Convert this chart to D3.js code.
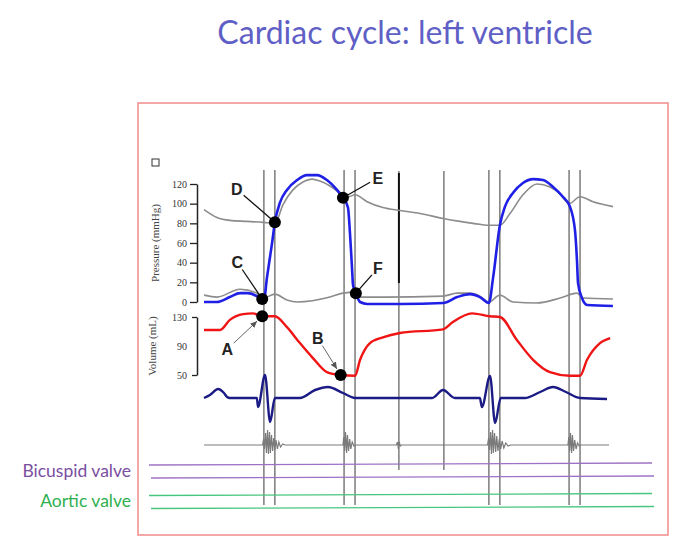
<!DOCTYPE html>
<html>
<head>
<meta charset="utf-8">
<script src="https://cdn.jsdelivr.net/npm/d3@7"></script>
<style>
  body { margin: 0; background: #fff; }
  svg { display: block; }
</style>
</head>
<body>
<div id="chart"></div>
<script>
// Time in ms, two cardiac cycles (800 ms each)
const lvPressure = [
  [0, 0], [46, 0], [92, 5], [128, 9], [156, 9], [188, 6], [207, 3], [213, 2],
  [224, 25], [242, 60], [252, 81], [270, 101], [295, 114], [331, 124], [366, 129],
  [402, 129], [437, 124], [473, 114], [494, 106], [512, 96], [519, 70], [526, 36],
  [530, 17], [540, 9], [555, 0], [580, -2], [700, -2], [850, -1], [900, 5], [946, 8],
  [981, 5], [1013, -1], [1028, 25], [1052, 78], [1070, 97], [1099, 111], [1134, 121],
  [1170, 125], [1205, 124], [1241, 117], [1276, 107], [1301, 97], [1319, 73],
  [1326, 43], [1330, 19], [1344, 4], [1362, -3], [1454, -4]
];
const aorticPressure = [
  [0, 94], [46, 86], [92, 83], [153, 82], [210, 81], [252, 80], [281, 99], [316, 114],
  [352, 122], [384, 125], [412, 123], [448, 118], [476, 112], [494, 106], [516, 107],
  [537, 109], [580, 102], [636, 96], [697, 93], [768, 90], [850, 85], [910, 82],
  [981, 79], [1013, 78], [1052, 78], [1088, 90], [1134, 109], [1184, 120], [1230, 117],
  [1266, 110], [1298, 100], [1337, 107], [1383, 102], [1454, 97]
];
const atrialPressure = [
  [0, 7], [46, 5], [128, 13], [188, 9], [210, 4], [252, 8], [295, 2], [331, 0],
  [448, 5], [494, 9], [537, 10], [555, 5], [636, 5], [850, 6], [900, 9], [946, 9],
  [981, 6], [1013, 0], [1052, 7], [1099, 0], [1184, -1], [1266, 4], [1326, 9],
  [1348, 4], [1454, 3]
];
const lvVolume = [
  [0, 112], [57, 112], [92, 126], [139, 134], [174, 135], [207, 131], [252, 131],
  [295, 116], [341, 94], [388, 73], [437, 54], [486, 50], [537, 49], [555, 71],
  [590, 94], [636, 102], [697, 108], [850, 113], [885, 123], [953, 135], [1017, 131],
  [1052, 130], [1113, 98], [1170, 71], [1230, 54], [1301, 49], [1337, 49],
  [1362, 71], [1408, 94], [1444, 101]
];
const ecg = [
  [0, 0], [21, 0.12], [50, 0.36], [71, 0.2], [82, 0.04], [92, 0], [188, 0], [192, -0.36],
  [217, 0.92], [235, -0.96], [252, 0], [341, 0], [395, 0.32], [441, 0.44], [494, 0.2],
  [537, 0], [811, 0], [850, 0.32], [892, 0], [981, 0], [988, -0.36], [1017, 0.88],
  [1035, -1], [1055, 0], [1141, 0], [1195, 0.24], [1241, 0.44], [1287, 0.24],
  [1337, 0], [1433, -0.04]
];
const phono = [
  [0, 0], [208, 0], [212, 6], [215, -4], [219, 12], [222, -8], [226, 15], [229, -9],
  [233, 13], [236, -8], [240, 10], [244, -6], [248, 7], [252, -5], [256, 5], [261, -4],
  [266, 3], [272, -2], [280, 1], [288, 0],
  [494, 0], [497, 8], [500, -6], [503, 13], [507, -8], [510, 10], [514, -6], [518, 6],
  [522, -4], [527, 3], [533, -1], [540, 0],
  [684, 0], [688, 3], [691, -4], [694, 3], [698, -1], [702, 0],
  [1008, 0], [1012, 7], [1015, -5], [1019, 13], [1022, -9], [1026, 15], [1029, -8],
  [1033, 12], [1037, -7], [1041, 9], [1045, -6], [1050, 6], [1055, -4], [1060, 4],
  [1066, -3], [1073, 2], [1081, -1], [1090, 0],
  [1294, 0], [1297, 8], [1300, -6], [1303, 12], [1307, -8], [1310, 10], [1314, -6],
  [1318, 5], [1323, -4], [1328, 2], [1334, -1], [1340, 0], [1440, 0]
];
const valveEvents = [213, 252, 498, 537, 1013, 1052, 1298, 1337];
const soundMarks = [693, 853];
const pressureTicks = [0, 20, 40, 60, 80, 100, 120];
const volumeTicks = [50, 90, 130];
const valves = ['Bicuspid valve', 'Aortic valve'];
const points = [
  { label: 'A', t: 207, v: 131, trace: 'vol', dx: -35, dy: 33, arrow: true },
  { label: 'B', t: 486, v: 50, trace: 'vol', dx: -23, dy: -37, arrow: true },
  { label: 'C', t: 207, v: 3, trace: 'p', dx: -25, dy: -37 },
  { label: 'D', t: 252, v: 81, trace: 'p', dx: -38, dy: -33 },
  { label: 'E', t: 494, v: 106, trace: 'p', dx: 35, dy: -20 },
  { label: 'F', t: 540, v: 9, trace: 'p', dx: 22, dy: -25 }
];

const W = 700, H = 550;
const frame = { x: 138, y: 103, w: 530, h: 432 };

const svg = d3.select('#chart').append('svg')
  .attr('width', W)
  .attr('height', H);

svg.append('text')
  .attr('x', 405)
  .attr('y', 44)
  .attr('text-anchor', 'middle')
  .style('font-family', 'Lato, "Open Sans", sans-serif')
  .style('font-size', '32px')
  .style('fill', '#5f5fc6')
  .text('Cardiac cycle: left ventricle');

svg.append('rect')
  .attr('x', frame.x).attr('y', frame.y)
  .attr('width', frame.w).attr('height', frame.h)
  .attr('fill', 'none')
  .attr('stroke', '#f08a8a')
  .attr('stroke-width', 1.5);

// little checkbox glyph
svg.append('rect')
  .attr('x', 152).attr('y', 159)
  .attr('width', 7).attr('height', 7)
  .attr('fill', 'none')
  .attr('stroke', '#333')
  .attr('stroke-width', 1);

// scales
const x = d3.scaleLinear().domain([0, 1440]).range([204, 609]);
const yP = d3.scaleLinear().domain([0, 120]).range([302, 184]);
const yV = d3.scaleLinear().domain([50, 130]).range([375, 317]);
const yE = d3.scaleLinear().domain([-1, 1]).range([423, 373]);
const yS = d3.scaleLinear().domain([-20, 20]).range([465, 425]);
const yValve = d3.scalePoint().domain(valves).range([470.5, 501]);

// vertical event lines
svg.append('g').selectAll('line')
  .data(valveEvents)
  .join('line')
  .attr('x1', d => x(d)).attr('x2', d => x(d))
  .attr('y1', 170).attr('y2', 505)
  .attr('stroke', '#5a5a5a')
  .attr('stroke-width', 1.2);

svg.append('g').selectAll('line')
  .data(soundMarks)
  .join('line')
  .attr('x1', d => x(d)).attr('x2', d => x(d))
  .attr('y1', 171).attr('y2', 470)
  .attr('stroke', '#5a5a5a')
  .attr('stroke-width', 1.2);

// the darker marker over the pressure panel
svg.append('line')
  .attr('x1', x(soundMarks[0])).attr('x2', x(soundMarks[0]))
  .attr('y1', 173).attr('y2', 283)
  .attr('stroke', '#111')
  .attr('stroke-width', 2);

// axes
const serif = '"Liberation Serif", "DejaVu Serif", serif';

svg.append('g')
  .attr('transform', 'translate(197,0)')
  .call(d3.axisLeft(yP).tickValues(pressureTicks).tickSize(7).tickPadding(3).tickSizeOuter(0))
  .call(g => g.select('.domain').attr('stroke', '#222').attr('stroke-width', 1.5))
  .call(g => g.selectAll('.tick line').attr('stroke', '#222').attr('stroke-width', 1.3))
  .call(g => g.selectAll('.tick text').attr('fill', '#333')
    .style('font-family', serif).style('font-size', '10px'));

svg.append('g')
  .attr('transform', 'translate(197,0)')
  .call(d3.axisLeft(yV).tickValues(volumeTicks).tickSize(5).tickPadding(5).tickSizeOuter(0))
  .call(g => g.select('.domain').attr('stroke', '#222').attr('stroke-width', 1.5))
  .call(g => g.selectAll('.tick line').attr('stroke', '#222').attr('stroke-width', 1.3)
    .attr('opacity', d => d === 90 ? 0 : 1))
  .call(g => g.selectAll('.tick text').attr('fill', '#333')
    .style('font-family', serif).style('font-size', '10px'));

svg.append('text')
  .attr('transform', `translate(159,${(yP(0) + yP(120)) / 2}) rotate(-90)`)
  .attr('text-anchor', 'middle')
  .style('font-family', serif)
  .style('font-size', '11px')
  .style('fill', '#444')
  .text('Pressure (mmHg)');

svg.append('text')
  .attr('transform', `translate(156,${(yV(50) + yV(130)) / 2}) rotate(-90)`)
  .attr('text-anchor', 'middle')
  .style('font-family', serif)
  .style('font-size', '11px')
  .style('fill', '#444')
  .text('Volume (mL)');

// traces
const line = (ys, curve) => d3.line()
  .x(d => x(d[0]))
  .y(d => ys(d[1]))
  .curve(curve || d3.curveMonotoneX);

svg.append('path').datum(aorticPressure)
  .attr('fill', 'none').attr('stroke', '#8c8c8c').attr('stroke-width', 1.6)
  .attr('d', line(yP));

svg.append('path').datum(atrialPressure)
  .attr('fill', 'none').attr('stroke', '#8c8c8c').attr('stroke-width', 1.6)
  .attr('d', line(yP));

svg.append('path').datum(lvPressure)
  .attr('fill', 'none').attr('stroke', '#1f1fe6').attr('stroke-width', 2.6)
  .attr('d', line(yP));

svg.append('path').datum(lvVolume)
  .attr('fill', 'none').attr('stroke', '#f01414').attr('stroke-width', 2.4)
  .attr('d', line(yV));

svg.append('path').datum(ecg)
  .attr('fill', 'none').attr('stroke', '#1b1b86').attr('stroke-width', 2.4)
  .attr('stroke-linejoin', 'round')
  .attr('d', line(yE));

svg.append('path').datum(phono)
  .attr('fill', 'none').attr('stroke', '#7a7a7a').attr('stroke-width', 1.2)
  .attr('d', line(yS, d3.curveLinear));

// valve rows
const valveColors = { 'Bicuspid valve': ['#9d72c6', '#7a4ea0'], 'Aortic valve': ['#47c67f', '#2fb04f'] };
valves.forEach(v => {
  [-6.5, 6.5].forEach((off, i) => {
    svg.append('line')
      .attr('x1', 149 + i * 2).attr('x2', 652 + i * 2)
      .attr('y1', yValve(v) + off + 1).attr('y2', yValve(v) + off - 1)
      .attr('stroke', valveColors[v][0])
      .attr('stroke-width', 1.3);
  });
  svg.append('text')
    .attr('x', 131)
    .attr('y', yValve(v))
    .attr('dy', '0.35em')
    .attr('text-anchor', 'end')
    .style('font-family', 'Lato, "Open Sans", sans-serif')
    .style('font-size', '17.5px')
    .style('fill', valveColors[v][1])
    .text(v);
});

// labelled points
svg.append('defs').append('marker')
  .attr('id', 'arrow')
  .attr('viewBox', '0 -4 8 8')
  .attr('refX', 8).attr('refY', 0)
  .attr('markerWidth', 7).attr('markerHeight', 7)
  .attr('markerUnits', 'userSpaceOnUse')
  .attr('orient', 'auto')
  .append('path')
  .attr('d', 'M0,-3.5L8,0L0,3.5Z')
  .attr('fill', '#555');

points.forEach(p => {
  const px = x(p.t);
  const py = p.trace === 'vol' ? yV(p.v) : yP(p.v);
  const tx = px + p.dx, ty = py + p.dy;
  const len = Math.hypot(p.dx, p.dy);
  const ux = -p.dx / len, uy = -p.dy / len;
  const end = p.arrow ? 7 : 0;
  svg.append('line')
    .attr('x1', tx + ux * 9).attr('y1', ty + uy * 9)
    .attr('x2', px - ux * end).attr('y2', py - uy * end)
    .attr('stroke', p.arrow ? '#666' : '#111')
    .attr('stroke-width', p.arrow ? 1 : 1.3)
    .attr('marker-end', p.arrow ? 'url(#arrow)' : null);
  svg.append('circle')
    .attr('cx', px).attr('cy', py).attr('r', 6)
    .attr('fill', '#000');
  svg.append('text')
    .attr('x', tx).attr('y', ty)
    .attr('dy', '0.36em')
    .attr('text-anchor', 'middle')
    .style('font-family', '"Liberation Sans", Arial, sans-serif')
    .style('font-weight', 'bold')
    .style('font-size', '16px')
    .style('fill', '#222')
    .text(p.label);
});
</script>
</body>
</html>
